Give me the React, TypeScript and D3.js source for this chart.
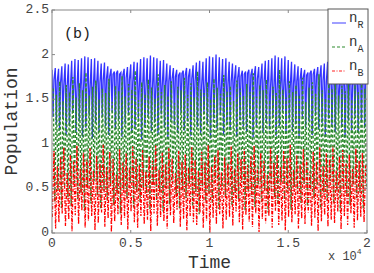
import React from 'react';
import * as d3 from 'd3';

// peak / trough values per oscillation cycle
const rHigh = [
  1.83, 1.85, 1.84, 1.87, 1.9, 1.89, 1.93, 1.95, 1.94, 1.96,
  1.98, 1.97, 1.95, 1.96, 1.93, 1.9, 1.91, 1.87, 1.84, 1.81,
  1.82, 1.8, 1.84, 1.86, 1.89, 1.92, 1.91, 1.95, 1.97, 1.96,
  1.99, 1.97, 1.96, 1.93, 1.94, 1.9, 1.88, 1.85, 1.83, 1.8,
  1.82, 1.85, 1.84, 1.88, 1.91, 1.93, 1.92, 1.96, 1.98, 1.97,
  2.0, 1.97, 1.95, 1.96, 1.92, 1.9, 1.88, 1.86, 1.82, 1.81,
  1.83, 1.84, 1.87, 1.86, 1.9, 1.93, 1.94, 1.96, 1.99, 1.97,
  1.96, 1.98, 1.94, 1.92, 1.89, 1.87, 1.85, 1.83, 1.8, 1.82,
  1.84, 1.86, 1.88, 1.9, 1.92, 1.95, 1.94, 1.97, 1.96, 1.98,
  1.95, 1.93, 1.9, 1.88, 1.85, 1.83,
];
const rMid = [
  1.72, 1.7, 1.68, 1.66, 1.64, 1.62, 1.61, 1.6, 1.6, 1.61,
  1.6, 1.62, 1.63, 1.66, 1.68, 1.71, 1.73, 1.76, 1.78, 1.79,
  1.78, 1.77, 1.74, 1.72, 1.69, 1.66, 1.64, 1.62, 1.61, 1.6,
  1.61, 1.6, 1.63, 1.65, 1.67, 1.7, 1.73, 1.75, 1.77, 1.79,
  1.77, 1.75, 1.73, 1.7, 1.67, 1.65, 1.63, 1.61, 1.6, 1.61,
  1.6, 1.62, 1.64, 1.66, 1.69, 1.72, 1.74, 1.76, 1.78, 1.79,
  1.77, 1.76, 1.73, 1.71, 1.68, 1.65, 1.63, 1.62, 1.6, 1.61,
  1.62, 1.61, 1.64, 1.67, 1.7, 1.72, 1.75, 1.77, 1.79, 1.78,
  1.76, 1.74, 1.71, 1.69, 1.66, 1.64, 1.63, 1.61, 1.6, 1.61,
  1.63, 1.65, 1.68, 1.71, 1.73, 1.76,
];
const rLow = [
  1.3, 1.22, 1.15, 1.28, 1.1, 1.2, 1.35, 1.12, 1.25, 1.08,
  1.18, 1.32, 1.06, 1.24, 1.14, 1.3, 1.2, 1.1, 1.36, 1.16,
  1.26, 1.08, 1.22, 1.34, 1.12, 1.18, 1.28, 1.05, 1.2, 1.31,
  1.14, 1.24, 1.1, 1.33, 1.18, 1.07, 1.27, 1.21, 1.12, 1.35,
  1.15, 1.25, 1.09, 1.3, 1.19, 1.11, 1.34, 1.22, 1.06, 1.28,
  1.17, 1.32, 1.1, 1.23, 1.15, 1.36, 1.08, 1.26, 1.19, 1.13,
  1.29, 1.07, 1.21, 1.33, 1.12, 1.24, 1.16, 1.31, 1.09, 1.2,
  1.35, 1.11, 1.27, 1.14, 1.22, 1.06, 1.3, 1.18, 1.25, 1.1,
  1.32, 1.16, 1.23, 1.08, 1.28, 1.19, 1.13, 1.34, 1.21, 1.07,
  1.26, 1.15, 1.31, 1.12, 1.24, 1.18,
];
const aHigh = [
  1.62, 1.55, 1.7, 1.48, 1.66, 1.58, 1.75, 1.52, 1.68, 1.6,
  1.8, 1.54, 1.64, 1.71, 1.5, 1.62, 1.57, 1.73, 1.47, 1.65,
  1.59, 1.76, 1.53, 1.67, 1.61, 1.82, 1.49, 1.69, 1.56, 1.72,
  1.63, 1.51, 1.78, 1.58, 1.66, 1.54, 1.7, 1.46, 1.64, 1.6,
  1.74, 1.55, 1.68, 1.52, 1.81, 1.61, 1.57, 1.69, 1.5, 1.73,
  1.63, 1.56, 1.77, 1.59, 1.65, 1.48, 1.71, 1.62, 1.54, 1.67,
  1.58, 1.79, 1.53, 1.66, 1.6, 1.72, 1.49, 1.64, 1.57, 1.83,
  1.61, 1.52, 1.7, 1.58, 1.66, 1.55, 1.74, 1.47, 1.63, 1.69,
  1.56, 1.78, 1.6, 1.51, 1.67, 1.62, 1.75, 1.54, 1.65, 1.59,
  1.71, 1.5, 1.66, 1.58, 1.73, 1.62,
];
const aLow = [
  0.35, 0.48, 0.28, 0.52, 0.4, 0.3, 0.55, 0.38, 0.45, 0.25,
  0.5, 0.33, 0.58, 0.42, 0.27, 0.47, 0.36, 0.53, 0.31, 0.44,
  0.22, 0.49, 0.39, 0.56, 0.29, 0.46, 0.34, 0.51, 0.41, 0.26,
  0.54, 0.37, 0.45, 0.24, 0.5, 0.32, 0.57, 0.43, 0.28, 0.48,
  0.39, 0.55, 0.3, 0.46, 0.21, 0.52, 0.36, 0.44, 0.33, 0.58,
  0.27, 0.49, 0.4, 0.53, 0.31, 0.45, 0.38, 0.56, 0.25, 0.47,
  0.42, 0.29, 0.54, 0.35, 0.48, 0.23, 0.51, 0.4, 0.32, 0.57,
  0.37, 0.46, 0.26, 0.52, 0.43, 0.34, 0.55, 0.3, 0.49, 0.39,
  0.53, 0.28, 0.45, 0.36, 0.58, 0.33, 0.47, 0.24, 0.5, 0.41,
  0.31, 0.54, 0.38, 0.46, 0.27, 0.52,
];
const bHigh = [
  0.92, 0.75, 0.85, 0.96, 0.68, 0.88, 0.8, 0.98, 0.72, 0.9,
  0.82, 0.95, 0.7, 0.87, 0.78, 0.99, 0.74, 0.91, 0.83, 0.66,
  0.94, 0.79, 0.89, 0.73, 0.97, 0.84, 0.76, 0.93, 0.69, 0.86,
  0.81, 0.98, 0.71, 0.9, 0.77, 0.95, 0.84, 0.67, 0.92, 0.8,
  0.88, 0.74, 0.96, 0.82, 0.7, 0.91, 0.79, 0.99, 0.75, 0.87,
  0.93, 0.68, 0.85, 0.78, 0.97, 0.72, 0.89, 0.83, 0.94, 0.76,
  0.86, 0.98, 0.73, 0.9, 0.81, 0.65, 0.95, 0.79, 0.88, 0.74,
  0.92, 0.84, 0.99, 0.71, 0.87, 0.77, 0.94, 0.82, 0.69, 0.91,
  0.8, 0.96, 0.75, 0.89, 0.83, 0.97, 0.7, 0.86, 0.93, 0.78,
  0.88, 0.72, 0.95, 0.81, 0.9, 0.76,
];
const bLow = [
  0.18, 0.05, 0.12, 0.22, 0.08, 0.15, 0.02, 0.2, 0.1, 0.25,
  0.06, 0.14, 0.19, 0.03, 0.11, 0.23, 0.07, 0.16, 0.01, 0.13,
  0.21, 0.09, 0.17, 0.04, 0.24, 0.12, 0.06, 0.19, 0.1, 0.15,
  0.02, 0.22, 0.08, 0.18, 0.13, 0.05, 0.2, 0.11, 0.26, 0.07,
  0.16, 0.03, 0.19, 0.12, 0.09, 0.23, 0.06, 0.14, 0.0, 0.17,
  0.1, 0.21, 0.05, 0.15, 0.18, 0.08, 0.24, 0.12, 0.04, 0.2,
  0.13, 0.07, 0.22, 0.01, 0.16, 0.11, 0.19, 0.06, 0.25, 0.09,
  0.14, 0.03, 0.18, 0.12, 0.21, 0.05, 0.16, 0.1, 0.23, 0.08,
  0.17, 0.02, 0.13, 0.2, 0.07, 0.15, 0.11, 0.24, 0.04, 0.19,
  0.09, 0.22, 0.06, 0.14, 0.18, 0.12,
];

const xTicks = [0, 5000, 10000, 15000, 20000];
const xTickLabels = ['0', '0.5', '1', '1.5', '2'];
const yTicks = [0, 0.5, 1, 1.5, 2, 2.5];
const yTickLabels = ['0', '0.5', '1', '1.5', '2', '2.5'];
const tMax = 20000;

const legendItems = [
  { sub: 'R', color: '#6060ff', dash: '' },
  { sub: 'A', color: '#2e8b2e', dash: '3 2' },
  { sub: 'B', color: '#ff2020', dash: '3 1.5 1 1.5' },
];

const W = 374;
const H = 273;
const margin = { left: 52, right: 7, top: 10, bottom: 40 };
const mono = { fontFamily: "'Liberation Mono', 'DejaVu Sans Mono', monospace" };

type Pt = { t: number; v: number };

const App: React.FC = () => {
  const x = d3.scaleLinear().domain([0, tMax]).range([margin.left, W - margin.right]);
  const y = d3.scaleLinear().domain([0, 2.5]).range([H - margin.bottom, margin.top]);
  const n = rHigh.length;
  const period = tMax / n;

  // time positions of the extremes inside each cycle
  const rPts: Pt[] = [];
  const aPts: Pt[] = [];
  const bPts: Pt[] = [];
  for (let k = 0; k < n; k++) {
    const t0 = k * period;
    rPts.push({ t: t0, v: rHigh[k] }, { t: t0 + period * 0.3, v: rLow[k] }, { t: t0 + period * 0.6, v: rMid[k] });
    aPts.push({ t: t0 + period * 0.35, v: aHigh[k] }, { t: t0 + period * 0.85, v: aLow[k] });
    bPts.push({ t: t0 + period * 0.1, v: bLow[k] }, { t: t0 + period * 0.6, v: bHigh[k] });
  }

  const line = d3.line<Pt>().x(d => x(d.t)).y(d => y(d.v));
  const x0 = margin.left, x1 = W - margin.right, y0 = margin.top, y1 = H - margin.bottom;
  const axisColor = '#888';

  return (
    <svg width={W} height={H} style={{ position: 'absolute', left: 0, top: 0, background: '#fff' }}>
      <defs>
        <clipPath id="plot">
          <rect x={x0} y={y0} width={x1 - x0} height={y1 - y0} />
        </clipPath>
      </defs>
      <g clipPath="url(#plot)">
        <path d={line(rPts) || ''} fill="none" stroke="#0000ff" strokeOpacity={0.8} strokeWidth={1.3} />
        <path d={line(aPts) || ''} fill="none" stroke="#2e8b2e" strokeWidth={1.4} strokeDasharray="3 2" />
        <path d={line(bPts) || ''} fill="none" stroke="#ff0000" strokeWidth={1.3} strokeDasharray="3.5 1.5 1 1.5" />
      </g>

      {/* axes box and ticks */}
      <rect x={x0} y={y0} width={x1 - x0} height={y1 - y0} fill="none" stroke={axisColor} strokeWidth={1} />
      {xTicks.map((t, i) => (
        <g key={'xt' + i}>
          <line x1={x(t)} x2={x(t)} y1={y1} y2={y1 - 3} stroke={axisColor} />
          <line x1={x(t)} x2={x(t)} y1={y0} y2={y0 + 3} stroke={axisColor} />
          <text x={x(t)} y={y1 + 14} textAnchor="middle" style={mono} fontSize={13} fill="#444">
            {xTickLabels[i]}
          </text>
        </g>
      ))}
      {yTicks.map((v, i) => (
        <g key={'yt' + i}>
          <line x1={x0} x2={x0 + 3} y1={y(v)} y2={y(v)} stroke={axisColor} />
          <line x1={x1} x2={x1 - 3} y1={y(v)} y2={y(v)} stroke={axisColor} />
          <text x={x0 - 3} y={y(v) + 3} textAnchor="end" style={mono} fontSize={13} fill="#444">
            {yTickLabels[i]}
          </text>
        </g>
      ))}

      <text x={328} y={260} style={mono} fontSize={12} fill="#444">
        x 10<tspan dy={-6} fontSize={8}>4</tspan>
      </text>
      <text x={(x0 + x1) / 2} y={268} textAnchor="middle" style={mono} fontSize={18} fill="#333">Time</text>
      <text transform={`translate(17,${(y0 + y1) / 2}) rotate(-90)`} textAnchor="middle" style={mono} fontSize={18} fill="#333">
        Population
      </text>
      <text x={64} y={38} style={mono} fontSize={15} fill="#222">(b)</text>

      {/* legend */}
      <rect x={328} y={9} width={40} height={75} fill="#fff" stroke="#555" strokeWidth={1} />
      {legendItems.map((d, i) => {
        const ly = 23 + i * 24;
        return (
          <g key={d.sub}>
            <line x1={332} x2={346} y1={ly} y2={ly} stroke={d.color} strokeWidth={1.2} strokeDasharray={d.dash} />
            <text x={349} y={ly - 1} style={mono} fontSize={14} fill="#333">
              n<tspan dy={6} fontSize={10}>{d.sub}</tspan>
            </text>
          </g>
        );
      })}
    </svg>
  );
};

export default App;
